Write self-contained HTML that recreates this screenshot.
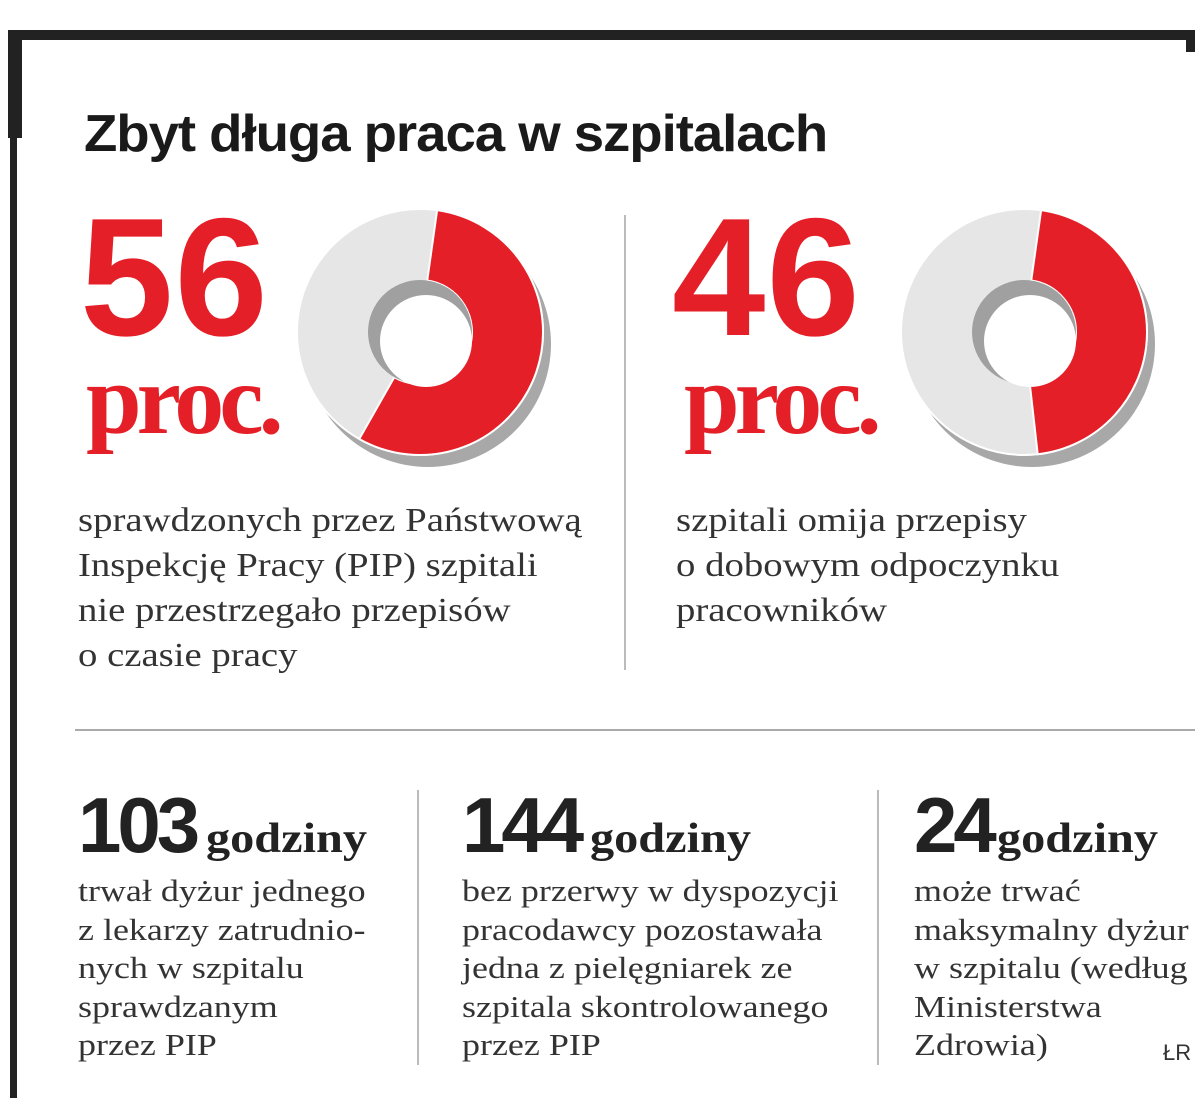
<!DOCTYPE html>
<html><head><meta charset="utf-8"><style>
body{margin:0;background:#fff;width:1200px;height:1120px;position:relative;overflow:hidden;font-family:"Liberation Serif",serif;}
.a{position:absolute;}
.big{font-family:"Liberation Sans",sans-serif;font-weight:bold;color:#e51f27;}
.proc{font-family:"Liberation Serif",serif;font-weight:bold;color:#e51f27;}
.txt{font-size:34px;line-height:45px;color:#333;transform:scaleX(1.14);transform-origin:0 0;white-space:nowrap;}
.btxt{font-size:31px;line-height:38.5px;color:#333;transform:scaleX(1.16);transform-origin:0 0;white-space:nowrap;}
.num{font-family:"Liberation Sans",sans-serif;font-weight:bold;color:#222;font-size:78px;letter-spacing:-4px;}
.god{font-family:"Liberation Serif",serif;font-weight:bold;color:#222;font-size:42px;display:inline-block;transform:scaleX(1.15);transform-origin:0 0;margin-left:10px;}
</style></head><body>
<div class="a" style="left:8px;top:30px;width:1187px;height:10px;background:#222"></div>
<div class="a" style="left:1186px;top:30px;width:9px;height:22px;background:#222"></div>
<div class="a" style="left:8px;top:30px;width:14px;height:108px;background:#222"></div>
<div class="a" style="left:10px;top:30px;width:7px;height:1068px;background:#222"></div>

<div class="a" style="left:84px;top:104px;font-family:'Liberation Sans',sans-serif;font-weight:bold;font-size:52px;color:#1a1a1a;transform:scaleX(1.05);transform-origin:0 0;white-space:nowrap;letter-spacing:-1px">Zbyt długa praca w szpitalach</div>

<div class="a big" style="left:80px;top:192px;font-size:168px;letter-spacing:1px;line-height:170px">56</div>
<div class="a proc" style="left:86px;top:345px;font-size:100px;letter-spacing:-5px;line-height:110px">proc.</div>
<div class="a big" style="left:672px;top:192px;font-size:168px;letter-spacing:1px;line-height:170px">46</div>
<div class="a proc" style="left:684px;top:345px;font-size:100px;letter-spacing:-5px;line-height:110px">proc.</div>

<svg class="a" style="left:0;top:0" width="1200" height="1120">
<g id="donuts"></g>
</svg>

<div class="a" style="left:624px;top:215px;width:2px;height:455px;background:#bbb"></div>
<div class="a txt" style="left:78px;top:498px">sprawdzonych przez Państwową<br>Inspekcję Pracy (PIP) szpitali<br>nie przestrzegało przepisów<br>o czasie pracy</div>
<div class="a txt" style="left:676px;top:498px">szpitali omija przepisy<br>o dobowym odpoczynku<br>pracowników</div>

<div class="a" style="left:75px;top:729px;width:1120px;height:2px;background:#aaa"></div>
<div class="a" style="left:417px;top:790px;width:2px;height:275px;background:#bbb"></div>
<div class="a" style="left:877px;top:790px;width:2px;height:275px;background:#bbb"></div>

<div class="a" style="left:78px;top:780px;white-space:nowrap"><span class="num">103</span><span class="god">godziny</span></div>
<div class="a btxt" style="left:78px;top:872px">trwał dyżur jednego<br>z lekarzy zatrudnio-<br>nych w szpitalu<br>sprawdzanym<br>przez PIP</div>
<div class="a" style="left:462px;top:780px;white-space:nowrap"><span class="num">144</span><span class="god">godziny</span></div>
<div class="a btxt" style="left:462px;top:872px">bez przerwy w dyspozycji<br>pracodawcy pozostawała<br>jedna z pielęgniarek ze<br>szpitala skontrolowanego<br>przez PIP</div>
<div class="a" style="left:914px;top:780px;white-space:nowrap"><span class="num">24</span><span class="god" style="margin-left:4px">godziny</span></div>
<div class="a btxt" style="left:914px;top:872px">może trwać<br>maksymalny dyżur<br>w szpitalu (według<br>Ministerstwa<br>Zdrowia)</div>
<div class="a" style="left:1163px;top:1040px;font-family:'Liberation Sans',sans-serif;font-size:22px;color:#333">ŁR</div>

<script>
const donutLabels = ["56 proc.", "46 proc."];
const donutValues = [56, 46];
const centersX = [420, 1024];
const cy = 332, R = 123, r = 52;
const g = document.getElementById('donuts');
const NS = 'http://www.w3.org/2000/svg';
function pt(cx, cyy, rad, a){ const t=(a-90)*Math.PI/180; return [cx+rad*Math.cos(t), cyy+rad*Math.sin(t)]; }
function mk(tag, attrs){ const e=document.createElementNS(NS,tag); for(const k in attrs) e.setAttribute(k,attrs[k]); g.appendChild(e); return e; }
donutValues.forEach((v,i)=>{
  const cx = centersX[i];
  const sh = mk('circle',{cx:cx+8,cy:cy+12,r:R,fill:'#a8a8a8'});
  
  
  const base = mk('circle',{cx:cx,cy:cy,r:R,fill:'#e6e6e6',stroke:'#fff','stroke-width':2});
  
  
  const a0 = 8, a1 = 8 + 360*v/100;
  const p0=pt(cx,cy,R,a0), p1=pt(cx,cy,R,a1), q1=pt(cx,cy,r,a1), q0=pt(cx,cy,r,a0);
  const large = (a1-a0)>180?1:0;
  const d=`M${p0[0]},${p0[1]} A${R},${R} 0 ${large} 1 ${p1[0]},${p1[1]} L${q1[0]},${q1[1]} A${r},${r} 0 ${large} 0 ${q0[0]},${q0[1]} Z`;
  const arc = mk('path',{d:d,fill:'#e51f27',stroke:'#fff','stroke-width':2});
  
  
  const hole = mk('circle',{cx:cx,cy:cy,r:r,fill:'#a0a0a0'});
  
  
  const hole2 = mk('circle',{cx:cx+6,cy:cy+9,r:r-6,fill:'#fff'});
  
  
});
</script>
</body></html>
